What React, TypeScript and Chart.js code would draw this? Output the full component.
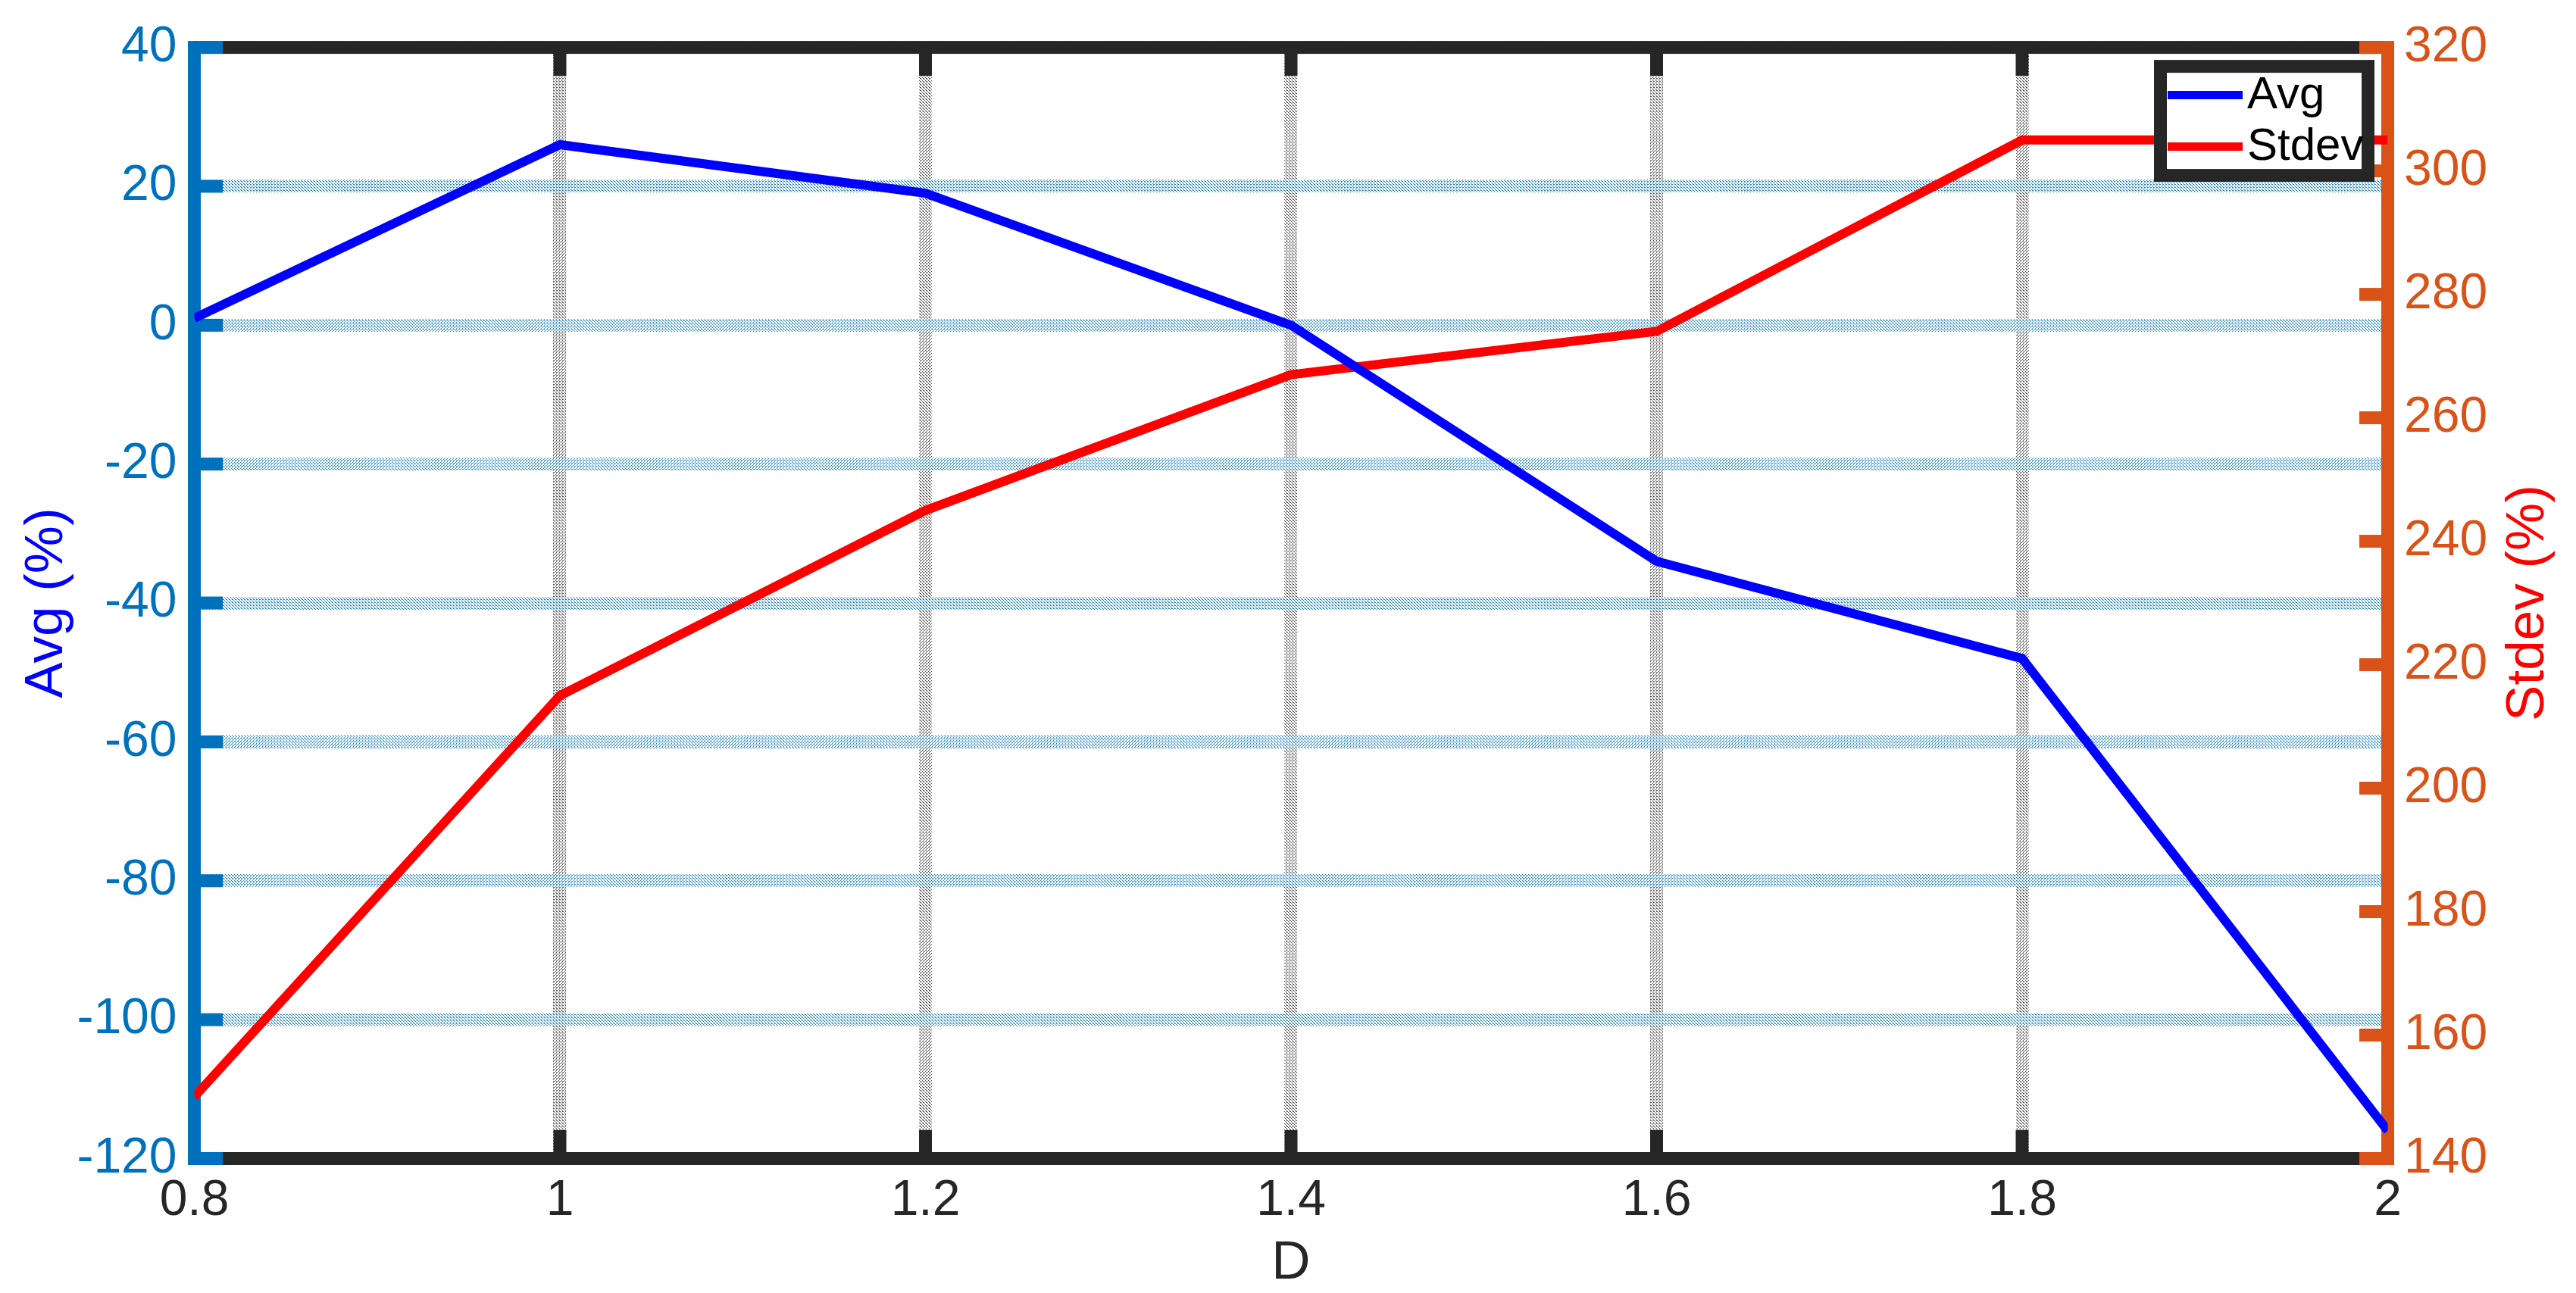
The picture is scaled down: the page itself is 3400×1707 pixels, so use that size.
import React, { useEffect, useRef } from 'react';
import { Chart, registerables } from 'chart.js';

Chart.register(...registerables);

// ---- data ----
const dValues = [0.8, 1.0, 1.2, 1.4, 1.6, 1.8, 2.0];
const avgValues = [1, 26, 19, 0, -34, -48, -116];
const stdevValues = [150, 215, 245, 267, 274, 305, 305];

const xTicks = [0.8, 1, 1.2, 1.4, 1.6, 1.8, 2];
const avgTicks = [-120, -100, -80, -60, -40, -20, 0, 20, 40];
const stdevTicks = [140, 160, 180, 200, 220, 240, 260, 280, 300, 320];

const seriesNames = ['Avg', 'Stdev'];
const xTitle = 'D';
const avgTitle = 'Avg (%)';
const stdevTitle = 'Stdev (%)';

// ---- style ----
const FONT = "'Liberation Sans', Arial, Helvetica, sans-serif";
const DARK = '#262626';
const LEFT_COLOR = '#0072BD';
const RIGHT_COLOR = '#D95319';
const AVG_COLOR = '#0000FF';
const STDEV_COLOR = '#FF0000';
const AXIS_W = 17;
const TICK_LEN = 37.5;
const LINE_W = 12;

function stipple(color: string): CanvasPattern | string {
  const c = document.createElement('canvas');
  c.width = 4;
  c.height = 4;
  const g = c.getContext('2d');
  if (!g) return color;
  g.fillStyle = color;
  const dots = [
    [0, 0], [2, 1], [1, 2], [3, 3], [2, 3],
  ];
  dots.forEach(([x, y]) => g.fillRect(x, y, 1, 1));
  const ctx = document.createElement('canvas').getContext('2d');
  const p = ctx ? ctx.createPattern(c, 'repeat') : null;
  return p || color;
}

const axesPlugin = {
  id: 'matlabAxes',
  beforeDatasetsDraw(chart: any) {
    const { ctx, chartArea } = chart;
    const { left, right, top, bottom } = chartArea;
    const h = AXIS_W / 2;
    const xs = chart.scales.x;
    const yl = chart.scales.y;
    const yr = chart.scales.y2;
    ctx.save();
    ctx.fillStyle = DARK;
    ctx.fillRect(left, top - h, right - left, AXIS_W);
    ctx.fillRect(left, bottom - h, right - left, AXIS_W);
    xs.ticks.forEach((t: any) => {
      const px = xs.getPixelForValue(t.value);
      ctx.fillRect(px - h, bottom - TICK_LEN, AXIS_W, TICK_LEN);
      ctx.fillRect(px - h, top, AXIS_W, TICK_LEN);
    });
    ctx.fillStyle = LEFT_COLOR;
    ctx.fillRect(left - h, top - h, AXIS_W, bottom - top + AXIS_W);
    yl.ticks.forEach((t: any) => {
      const py = yl.getPixelForValue(t.value);
      ctx.fillRect(left, py - h, TICK_LEN, AXIS_W);
    });
    ctx.fillStyle = RIGHT_COLOR;
    ctx.fillRect(right - h, top - h, AXIS_W, bottom - top + AXIS_W);
    yr.ticks.forEach((t: any) => {
      const py = yr.getPixelForValue(t.value);
      ctx.fillRect(right - TICK_LEN, py - h, TICK_LEN, AXIS_W);
    });
    ctx.restore();
  },
  afterDraw(chart: any) {
    const { ctx, chartArea } = chart;
    const { right, top, bottom } = chartArea;
    const yr = chart.scales.y2;
    ctx.save();
    ctx.translate(yr.right - 63, (top + bottom) / 2);
    ctx.rotate(-Math.PI / 2);
    ctx.fillStyle = STDEV_COLOR;
    ctx.font = `71px ${FONT}`;
    ctx.textAlign = 'center';
    ctx.textBaseline = 'middle';
    ctx.fillText(stdevTitle, 0, 0);
    ctx.restore();

    const outerRight = right - 17.5;
    const outerLeft = outerRight - 291;
    const outerTop = top + 16.5;
    const outerH = 161;
    ctx.save();
    ctx.fillStyle = '#FFFFFF';
    ctx.fillRect(outerLeft, outerTop, 291, outerH);
    ctx.strokeStyle = DARK;
    ctx.lineWidth = AXIS_W;
    ctx.strokeRect(outerLeft + AXIS_W / 2, outerTop + AXIS_W / 2, 291 - AXIS_W, outerH - AXIS_W);
    const rowsY = [outerTop + 46.5, outerTop + 114.5];
    chart.data.datasets.forEach((ds: any, i: number) => {
      const y = rowsY[i];
      ctx.strokeStyle = ds.borderColor;
      ctx.lineWidth = 11;
      ctx.beginPath();
      ctx.moveTo(outerLeft + 18, y);
      ctx.lineTo(outerLeft + 117, y);
      ctx.stroke();
      ctx.fillStyle = '#000000';
      ctx.font = `60px ${FONT}`;
      ctx.textAlign = 'left';
      ctx.textBaseline = 'middle';
      ctx.fillText(ds.label, outerLeft + 123, y + 1);
    });
    ctx.restore();
  },
};

export default function App() {
  const canvasRef = useRef<HTMLCanvasElement | null>(null);

  useEffect(() => {
    document.body.style.margin = '0';
    const canvas = canvasRef.current;
    if (!canvas) return;
    const blueGrid = stipple('rgba(0,114,189,0.9)');
    const greyGrid = stipple('rgba(38,38,38,0.8)');
    const chart = new Chart(canvas, {
      type: 'line',
      data: {
        datasets: [
          {
            label: seriesNames[0],
            data: dValues.map((x, i) => ({ x, y: avgValues[i] })),
            yAxisID: 'y',
            borderColor: AVG_COLOR,
            backgroundColor: AVG_COLOR,
            borderWidth: LINE_W,
            pointRadius: 0,
            tension: 0,
            fill: false,
          },
          {
            label: seriesNames[1],
            data: dValues.map((x, i) => ({ x, y: stdevValues[i] })),
            yAxisID: 'y2',
            borderColor: STDEV_COLOR,
            backgroundColor: STDEV_COLOR,
            borderWidth: LINE_W,
            pointRadius: 0,
            tension: 0,
            fill: false,
          },
        ],
      },
      options: {
        animation: false,
        responsive: false,
        maintainAspectRatio: false,
        devicePixelRatio: 1,
        layout: { padding: { top: 60.5, left: 0, right: 0, bottom: 0 } },
        plugins: {
          legend: { display: false },
          tooltip: { enabled: false },
          title: { display: false },
        },
        scales: {
          x: {
            type: 'linear',
            position: 'bottom',
            min: 0.8,
            max: 2,
            afterBuildTicks: (scale: any) => {
              scale.ticks = xTicks.map((v) => ({ value: v }));
            },
            afterFit: (scale: any) => {
              scale.height = 177.5;
            },
            grid: {
              color: greyGrid,
              lineWidth: 17,
              drawTicks: false,
              drawOnChartArea: true,
            },
            border: { display: false },
            ticks: {
              color: DARK,
              font: { family: FONT, size: 66 },
              padding: 17,
              maxRotation: 0,
              autoSkip: false,
              callback: (v: any) => String(v),
            },
            title: {
              display: true,
              text: xTitle,
              color: DARK,
              font: { family: FONT, size: 71, lineHeight: 1.1 },
              padding: { top: 0, bottom: 0 },
            },
          },
          y: {
            type: 'linear',
            position: 'left',
            min: -120,
            max: 40,
            afterBuildTicks: (scale: any) => {
              scale.ticks = avgTicks.map((v) => ({ value: v }));
            },
            afterFit: (scale: any) => {
              scale.width = 256.5;
            },
            grid: {
              color: blueGrid,
              lineWidth: 17,
              drawTicks: false,
            },
            border: { display: false },
            ticks: {
              color: LEFT_COLOR,
              font: { family: FONT, size: 66 },
              padding: 23,
              autoSkip: false,
              callback: (v: any) => String(v),
            },
            title: {
              display: true,
              text: avgTitle,
              color: AVG_COLOR,
              font: { family: FONT, size: 71, lineHeight: 1.1 },
              padding: { top: 23, bottom: 0 },
            },
          },
          y2: {
            type: 'linear',
            position: 'right',
            min: 140,
            max: 320,
            afterBuildTicks: (scale: any) => {
              scale.ticks = stdevTicks.map((v) => ({ value: v }));
            },
            afterFit: (scale: any) => {
              scale.width = 248.5;
            },
            grid: { display: false, drawOnChartArea: false, drawTicks: false },
            border: { display: false },
            ticks: {
              color: RIGHT_COLOR,
              font: { family: FONT, size: 66 },
              padding: 21.5,
              autoSkip: false,
              callback: (v: any) => String(v),
            },
            title: { display: false },
          },
        },
      } as any,
      plugins: [axesPlugin],
    });
    return () => chart.destroy();
  }, []);

  return (
    <div style={{ position: 'absolute', left: 0, top: 0, width: 3400, height: 1707, background: '#FFFFFF' }}>
      <canvas ref={canvasRef} width={3400} height={1707} style={{ width: 3400, height: 1707, display: 'block' }} />
    </div>
  );
}
